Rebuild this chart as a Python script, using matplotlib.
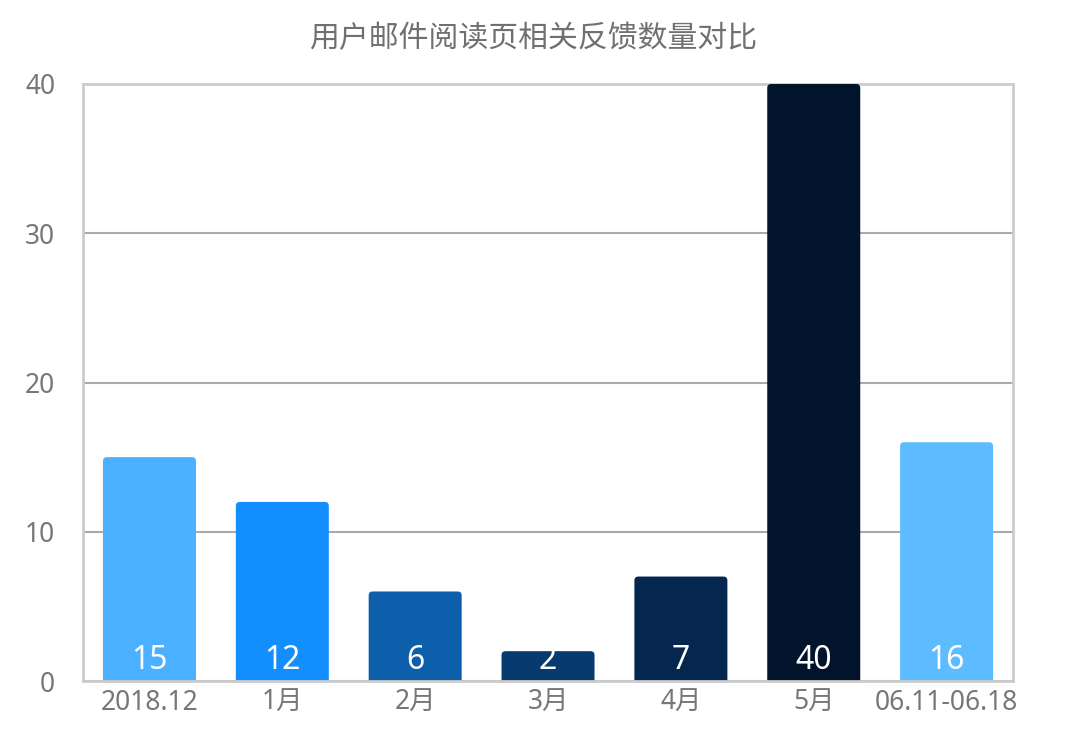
import matplotlib
matplotlib.use('Agg')
import matplotlib.pyplot as plt
from matplotlib.patches import FancyBboxPatch

plt.rcParams['font.family'] = ['Noto Sans', 'Noto Sans CJK SC', 'DejaVu Sans']

# 数据
categories = ['2018.12', '1月', '2月', '3月', '4月', '5月', '06.11-06.18']
values = [15, 12, 6, 2, 7, 40, 16]
colors = ['#4AB0FF', '#138EFF', '#0E5FAB', '#073A6E', '#04264F', '#02132C', '#5DBCFF']
yticks = [0, 10, 20, 30, 40]

fig = plt.figure(figsize=(10.66, 7.4), dpi=100, facecolor='white')
ax = fig.add_axes([0.0779, 0.0797, 0.8724, 0.8068])

ax.set_xlim(-0.5, len(categories) - 0.5)
ax.set_ylim(0, 40)

x = range(len(categories))
bars = ax.bar(x, values, width=0.7, color=colors, zorder=3)

# 只要顶部圆角：底部向下延伸，被坐标区裁掉
px_x = 930 / len(categories)
px_y = 597 / 40
for b in bars:
    bx, by = b.get_xy()
    r = FancyBboxPatch((bx, by - 1), b.get_width(), b.get_height() + 1,
                       boxstyle='round,pad=0,rounding_size=0.03',
                       mutation_aspect=px_x / px_y,
                       facecolor=b.get_facecolor(), edgecolor='none', zorder=3)
    ax.add_patch(r)
    b.remove()

for i, v in zip(x, values):
    ax.annotate(str(v), (i, 0), xytext=(0, 3), textcoords='offset points',
                ha='center', va='bottom', color='white', fontsize=23, zorder=4)

ax.set_yticks(yticks)
ax.set_xticks(list(x))
ax.set_xticklabels(categories)
ax.tick_params(axis='both', length=0, labelsize=19, labelcolor='#777777')
ax.tick_params(axis='y', pad=20)
ax.tick_params(axis='x', pad=6)

ax.grid(axis='y', color='#AAAAAA', linewidth=1.5)
ax.set_axisbelow(True)
for s in ax.spines.values():
    s.set_color('#CCCCCC')
    s.set_linewidth(2)
ax.spines['bottom'].set_zorder(5)
ax.spines['top'].set_zorder(2)

fig.text(0.5, 0.946, '用户邮件阅读页相关反馈数量对比', ha='center', va='center',
         fontsize=21.5, color='#707070', fontweight='medium')

fig.savefig('out.png', dpi=100, facecolor='white')
